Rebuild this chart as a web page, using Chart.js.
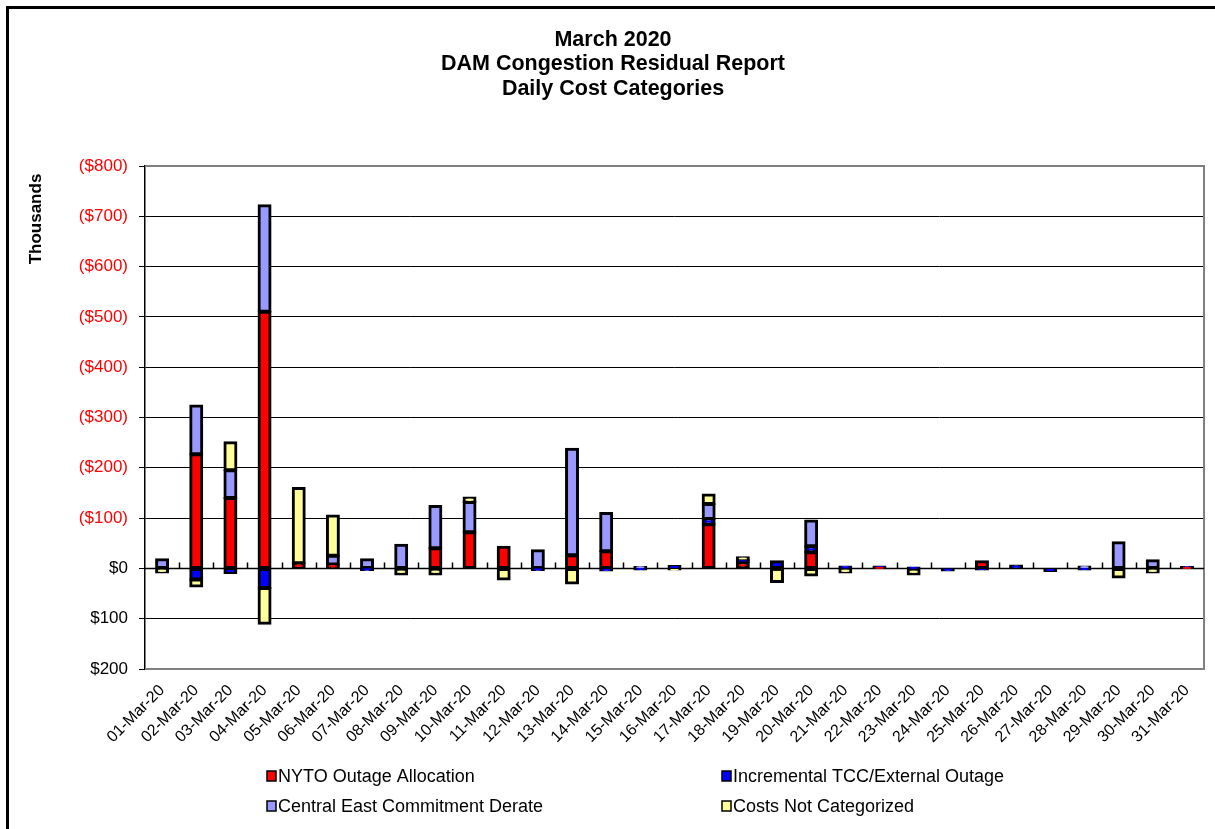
<!DOCTYPE html>
<html>
<head>
<meta charset="utf-8">
<title>DAM Congestion Residual Report - March 2020</title>
<script src="https://cdn.jsdelivr.net/npm/chart.js@4.4.1/dist/chart.umd.min.js"></script>
<style>
  html, body { margin: 0; padding: 0; background: #fff; overflow: hidden; }
  #frame {
    position: absolute; left: 6px; top: 6px; width: 1300px; height: 900px;
    border: 3px solid #000; box-shadow: 1px 1px 1px #999;
  }
  #wrap { position: absolute; left: 0; top: 0; width: 1215px; height: 829px; }
</style>
</head>
<body>
<div id="frame"></div>
<div id="wrap"><canvas id="myChart"></canvas></div>
<script>
// dias do mês
const dias = [
  '01-Mar-20', '02-Mar-20', '03-Mar-20', '04-Mar-20', '05-Mar-20', '06-Mar-20', '07-Mar-20',
  '08-Mar-20', '09-Mar-20', '10-Mar-20', '11-Mar-20', '12-Mar-20', '13-Mar-20', '14-Mar-20',
  '15-Mar-20', '16-Mar-20', '17-Mar-20', '18-Mar-20', '19-Mar-20', '20-Mar-20', '21-Mar-20',
  '22-Mar-20', '23-Mar-20', '24-Mar-20', '25-Mar-20', '26-Mar-20', '27-Mar-20', '28-Mar-20',
  '29-Mar-20', '30-Mar-20', '31-Mar-20'
];

// valores em milhares (positivo = custo, para cima)
const nytoOutage = [0, 227, 140, 510, 10, 8, 0, 0, 40, 72, 43, 0, 26, 34, 0, 0, 88, 12, 0, 32, 0, 2, 0, 0, 14, 0, 0, 0, 0, 0, 1];
const incrementalTcc = [0, -22, -9, -39, 0, 0, -3, 0, 0, 0, 0, -3, 0, -4, -2, 5, 10, 4, 14, 12, 4, 2, 2, -4, -2, 6, -5, -2, 0, 0, 2];
const centralEast = [18, 97, 55, 212, 0, 17, 18, 47, 84, 60, 0, 36, 212, 76, 3, 0, 30, 0, 0, 51, 0, 0, 0, 0, 0, 0, 0, 4, 52, 16, 0];
const naoCategorizado = [-8, -14, 56, -71, 150, 80, 0, -12, -12, 9, -22, 0, -30, 0, 0, -2, 19, 6, -27, -14, -8, 0, -12, 0, 0, 0, 0, 0, -18, -8, 0];

const yTicks = [-200, -100, 0, 100, 200, 300, 400, 500, 600, 700, 800];

const titulo = ['March 2020', 'DAM Congestion Residual Report', 'Daily Cost Categories'];
const fonte = "'Liberation Sans', Arial, sans-serif";

function serie(label, data, cor) {
  return {
    label: label,
    data: data,
    backgroundColor: cor,
    borderColor: '#000',
    borderWidth: 3,
    borderSkipped: false,
    inflateAmount: 1, // borda centrada na aresta, como no Excel
    barPercentage: 0.35,
    categoryPercentage: 1.0
  };
}

// título, eixo "Thousands", linha do zero, moldura e legenda
const extras = {
  id: 'extras',
  beforeDatasetsDraw(chart) {
    const ctx = chart.ctx;
    const a = chart.chartArea;
    const y0 = chart.scales.y.getPixelForValue(0);
    const n = chart.data.labels.length;
    const w = (a.right - a.left) / n;

    ctx.save();
    ctx.strokeStyle = '#808080';
    ctx.lineWidth = 2;
    ctx.beginPath();
    ctx.moveTo(a.left, a.top);
    ctx.lineTo(a.right, a.top);
    ctx.lineTo(a.right, a.bottom);
    ctx.lineTo(a.left, a.bottom);
    ctx.stroke();

    ctx.strokeStyle = '#000';
    ctx.lineWidth = 1.5;
    ctx.beginPath();
    ctx.moveTo(a.left, y0);
    ctx.lineTo(a.right, y0);
    for (let i = 1; i < n; i++) {
      const x = Math.round(a.left + i * w) + 0.5;
      ctx.moveTo(x, y0);
      ctx.lineTo(x, y0 - 6);
    }
    ctx.stroke();
    ctx.restore();
  },
  afterDraw(chart) {
    const ctx = chart.ctx;
    ctx.save();
    ctx.fillStyle = '#000';
    ctx.textAlign = 'center';
    ctx.textBaseline = 'middle';
    ctx.font = 'bold 21.5px ' + fonte;
    titulo.forEach((t, i) => ctx.fillText(t, 613, 40 + i * 24.5));

    ctx.save();
    ctx.translate(36, 219);
    ctx.rotate(-Math.PI / 2);
    ctx.font = 'bold 17px ' + fonte;
    ctx.fillText('Thousands', 0, 0);
    ctx.restore();

    // legenda em duas colunas
    const pos = [[267, 776], [722, 776], [267, 806], [722, 806]];
    ctx.font = '18px ' + fonte;
    ctx.textAlign = 'left';
    chart.data.datasets.forEach((ds, i) => {
      const [x, y] = pos[i];
      ctx.fillStyle = ds.backgroundColor;
      ctx.fillRect(x, y - 5, 9, 10);
      ctx.strokeStyle = '#000';
      ctx.lineWidth = 1.5;
      ctx.strokeRect(x, y - 5, 9, 10);
      ctx.fillStyle = '#000';
      ctx.fillText(ds.label, x + 11, y + 1);
    });
    ctx.restore();
  }
};

const ctx1 = document.getElementById('myChart');
new Chart(ctx1, {
  type: 'bar',
  data: {
    labels: dias,
    datasets: [
      serie('NYTO Outage Allocation', nytoOutage, '#FF0000'),
      serie('Incremental TCC/External Outage', incrementalTcc, '#0000FF'),
      serie('Central East Commitment Derate', centralEast, '#9999FF'),
      serie('Costs Not Categorized', naoCategorizado, '#FFFF99')
    ]
  },
  options: {
    responsive: true,
    maintainAspectRatio: false,
    animation: false,
    layout: { padding: { left: 0, right: 11, top: 166, bottom: 0 } },
    plugins: {
      legend: { display: false },
      tooltip: { enabled: false }
    },
    scales: {
      x: {
        stacked: true,
        grid: { display: false },
        border: { display: false },
        ticks: {
          autoSkip: false,
          minRotation: 45,
          maxRotation: 45,
          padding: 4,
          color: '#000',
          font: { family: fonte, size: 16 }
        },
        afterFit(scale) { scale.height = 160; }
      },
      y: {
        stacked: true,
        min: -200,
        max: 800,
        afterBuildTicks(scale) { scale.ticks = yTicks.map(v => ({ value: v })); },
        grid: {
          color: c => (c.tick && (c.tick.value === 800 || c.tick.value === -200)) ? '#808080' : '#000',
          tickColor: '#000',
          tickLength: 6,
          lineWidth: 1
        },
        border: { display: true, color: '#000', width: 1.5 },
        ticks: {
          padding: 11,
          color: c => (c.tick && c.tick.value > 0) ? '#FF0000' : '#000',
          font: { family: fonte, size: 17 },
          callback: v => v > 0 ? '($' + v + ')' : (v < 0 ? '$' + (-v) : '$0')
        },
        afterFit(scale) { scale.width = 145; }
      }
    }
  },
  plugins: [extras]
});
</script>
</body>
</html>
